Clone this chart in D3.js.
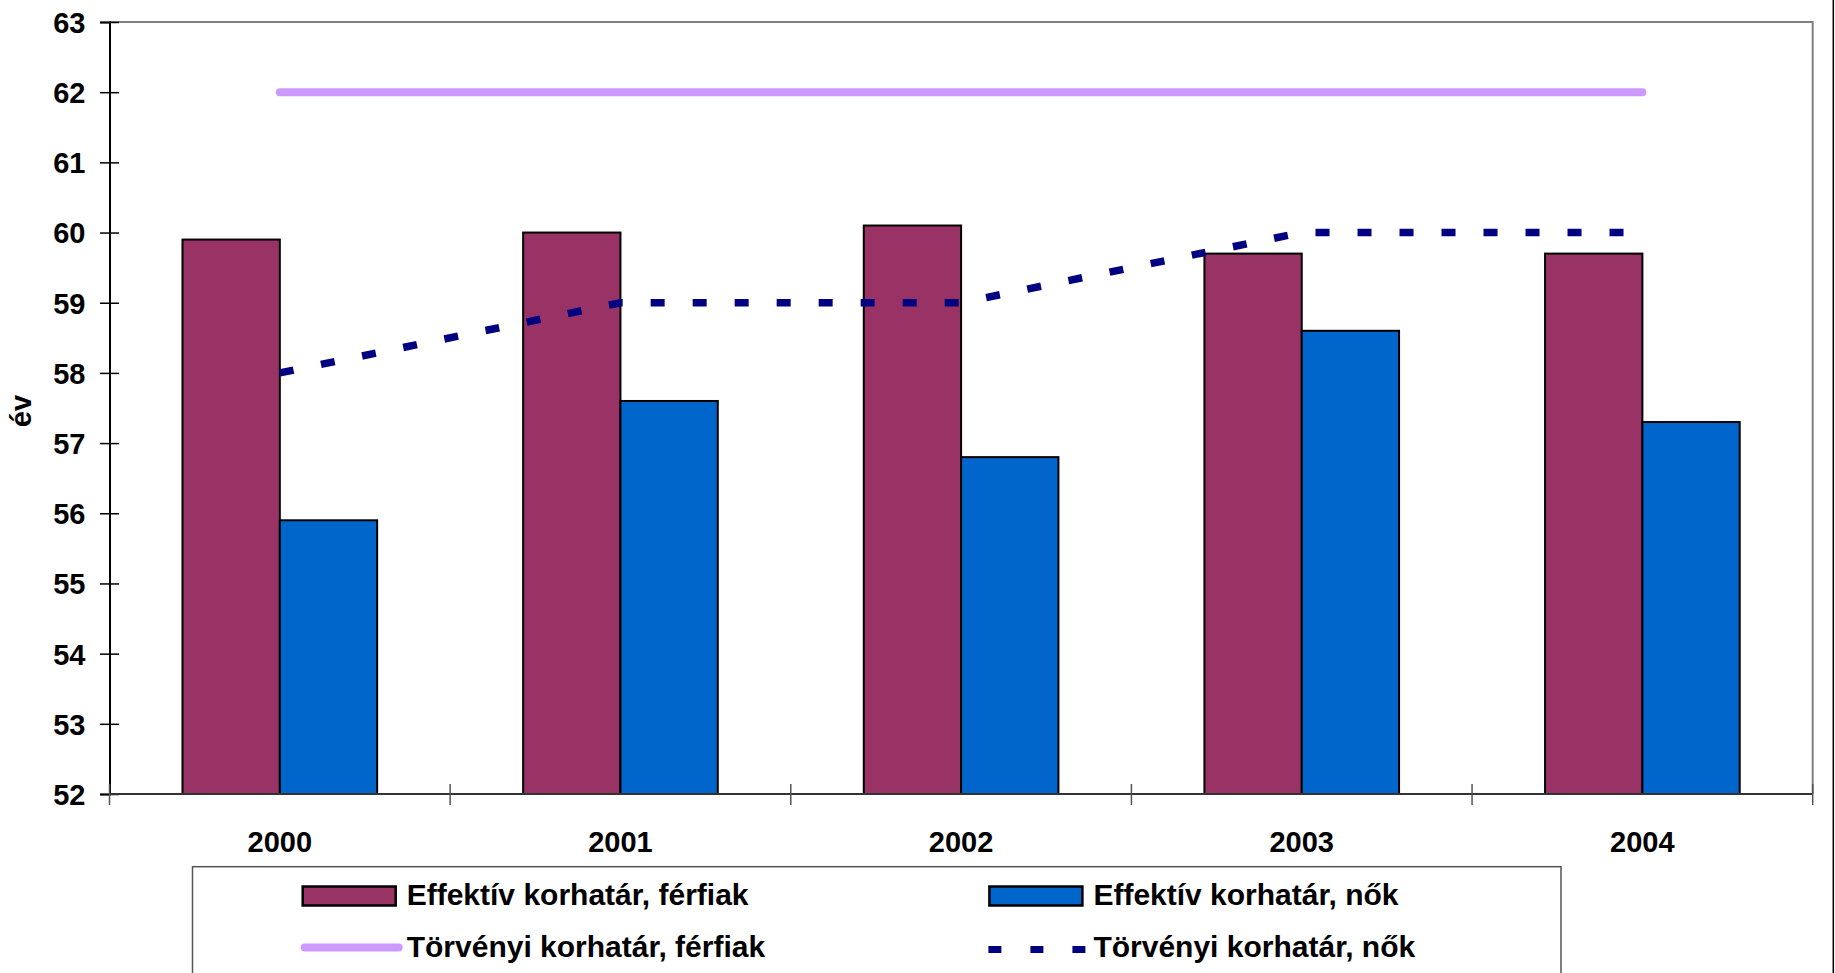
<!DOCTYPE html>
<html>
<head>
<meta charset="utf-8">
<script src="https://cdn.jsdelivr.net/npm/d3@7"></script>
<style>
  body { margin: 0; background: #fff; }
  text { font-family: "Liberation Sans", Arial, sans-serif; font-weight: bold; fill: #000; }
</style>
</head>
<body>
<div id="canvas"></div>
<script>
// data
var years = ['2000', '2001', '2002', '2003', '2004'];
var effMen = [59.9, 60.0, 60.1, 59.7, 59.7];
var effWomen = [55.9, 57.6, 56.8, 58.6, 57.3];
var legalMen = [62, 62, 62, 62, 62];
var legalWomen = [58, 59, 59, 60, 60];
var yTicks = [52, 53, 54, 55, 56, 57, 58, 59, 60, 61, 62, 63];
var seriesNames = ['Effektív korhatár, férfiak', 'Effektív korhatár, nők',
                   'Törvényi korhatár, férfiak', 'Törvényi korhatár, nők'];

var W = 1835, H = 973;
var m = {t: 22, r: 1835 - 1812.7, b: 973 - 794, l: 109.5};
var w = W - m.l - m.r, h = H - m.t - m.b;

var svg = d3.select('#canvas').append('svg')
    .attr('width', W).attr('height', H);

var plot = svg.append('g')
    .attr('transform', 'translate(' + m.l + ',' + m.t + ')');

// scales
var x = d3.scaleBand().domain(years).range([0, w])
    .paddingInner(1.5 / 3.5).paddingOuter(0.75 / 3.5);
var x1 = d3.scaleBand().domain(['men', 'women']).range([0, x.bandwidth()]);
var y = d3.scaleLinear().domain([52, 63]).range([h, 0]);

// plot border (grey, top and right)
plot.append('path')
    .attr('d', 'M0,0H' + w + 'V' + h)
    .attr('fill', 'none').attr('stroke', '#808080').attr('stroke-width', 2);

// bars
var groups = plot.selectAll('.grp').data(years).enter().append('g')
    .attr('class', 'grp')
    .attr('transform', function(d){ return 'translate(' + x(d) + ',0)'; });

groups.append('rect')
    .attr('x', x1('men')).attr('width', x1.bandwidth())
    .attr('y', function(d, i){ return y(effMen[i]); })
    .attr('height', function(d, i){ return h - y(effMen[i]); })
    .attr('fill', '#993366').attr('stroke', '#000').attr('stroke-width', 2);

groups.append('rect')
    .attr('x', x1('women')).attr('width', x1.bandwidth())
    .attr('y', function(d, i){ return y(effWomen[i]); })
    .attr('height', function(d, i){ return h - y(effWomen[i]); })
    .attr('fill', '#0066CC').attr('stroke', '#000').attr('stroke-width', 2);

// y axis
var axisY = d3.axisLeft(y).tickValues(yTicks).tickSize(9.5).tickPadding(14.5);
var gy = plot.append('g').attr('class', 'axis-y').call(axisY);
gy.select('.domain').attr('stroke', '#000').attr('stroke-width', 2);
gy.selectAll('.tick line').attr('x1', 9.5).attr('stroke', '#000').attr('stroke-width', 1.5);
gy.selectAll('.tick text').style('font-size', '29px').attr('dy', '0.36em');

// x axis
plot.append('line')
    .attr('x1', 0).attr('x2', w).attr('y1', h).attr('y2', h)
    .attr('stroke', '#333').attr('stroke-width', 2);
var bounds = years.map(function(d){ return x(d) - x.step() * x.paddingOuter(); }).concat([w]);
plot.selectAll('.xtick').data(bounds).enter().append('line')
    .attr('x1', function(d){ return d; }).attr('x2', function(d){ return d; })
    .attr('y1', h - 10).attr('y2', h + 11)
    .attr('stroke', '#555').attr('stroke-width', 1.5);
plot.selectAll('.xlab').data(years).enter().append('text')
    .attr('x', function(d){ return x(d) + x.bandwidth() / 2; })
    .attr('y', h + 57.5)
    .attr('text-anchor', 'middle')
    .style('font-size', '29px')
    .text(function(d){ return d; });

// lines
var line = d3.line()
    .x(function(d, i){ return x(years[i]) + x.bandwidth() / 2; })
    .y(function(d){ return y(d); });

plot.append('path').datum(legalMen)
    .attr('d', line).attr('fill', 'none')
    .attr('stroke', '#CC99FF').attr('stroke-width', 8).attr('stroke-linecap', 'round');

plot.append('path').datum(legalWomen)
    .attr('d', line).attr('fill', 'none')
    .attr('stroke', '#000080').attr('stroke-width', 7.5)
    .attr('stroke-dasharray', '14,28');

// y title
svg.append('text')
    .attr('transform', 'translate(31,411) rotate(-90)')
    .attr('text-anchor', 'middle')
    .style('font-size', '29px')
    .text('év');

// legend
var lg = svg.append('g');
lg.append('rect')
    .attr('x', 192.5).attr('y', 866.7).attr('width', 1368.5).attr('height', 200)
    .attr('fill', '#fff').attr('stroke', '#555').attr('stroke-width', 1.5);

var colX = [302.7, 989.4], rowY = [896, 947.5];
seriesNames.forEach(function(name, i){
    var cx = colX[i % 2], cy = rowY[Math.floor(i / 2)];
    if (i === 0 || i === 1) {
        lg.append('rect')
            .attr('x', cx).attr('y', cy - 9.5).attr('width', 93).attr('height', 19)
            .attr('fill', i === 0 ? '#993366' : '#0066CC')
            .attr('stroke', '#000').attr('stroke-width', 2.5);
    } else if (i === 2) {
        lg.append('line')
            .attr('x1', cx + 2).attr('x2', cx + 96).attr('y1', cy).attr('y2', cy)
            .attr('stroke', '#CC99FF').attr('stroke-width', 8).attr('stroke-linecap', 'round');
    } else {
        lg.append('line')
            .attr('x1', cx - 1).attr('x2', cx + 96).attr('y1', cy + 2).attr('y2', cy + 2)
            .attr('stroke', '#000080').attr('stroke-width', 7)
            .attr('stroke-dasharray', '13,29');
    }
    lg.append('text')
        .attr('x', cx + 104).attr('y', cy + 9)
        .style('font-size', '30px')
        .text(name);
});

// outer right border of the chart area
svg.append('line')
    .attr('x1', 1833.3).attr('x2', 1833.3).attr('y1', 0).attr('y2', H)
    .attr('stroke', '#000').attr('stroke-width', 1.5);
</script>
</body>
</html>
